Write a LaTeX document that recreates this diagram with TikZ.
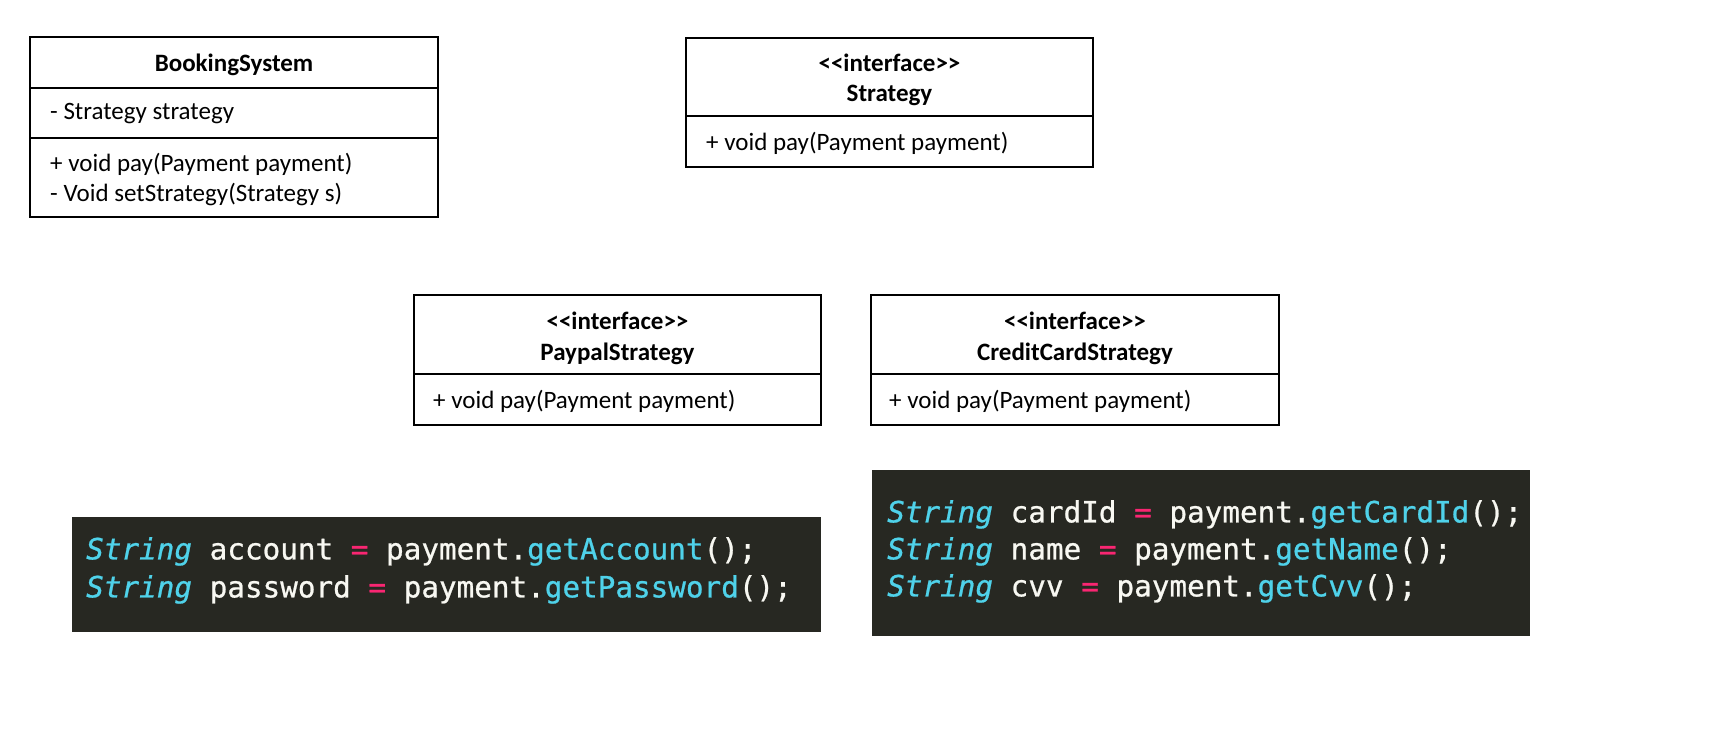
\documentclass[tikz,border=0pt]{standalone}
\usepackage{fontspec}
\setmainfont{Carlito}
\newfontfamily\codefont[FakeBold=0.8]{DejaVu Sans Mono}
\definecolor{mbg}{HTML}{272822}
\definecolor{mcyan}{HTML}{4FD2EA}
\definecolor{mpink}{HTML}{F92672}
\definecolor{mwhite}{HTML}{F8F8F2}
\newcommand{\kw}[1]{\textcolor{mcyan}{\itshape #1}}
\newcommand{\fn}[1]{\textcolor{mcyan}{#1}}
\newcommand{\eqs}{\textcolor{mpink}{=}}
\begin{document}
\begin{tikzpicture}[x=1pt,y=-1pt,
  umlbox/.style={draw=black,line width=2pt},
  umltext/.style={inner sep=0pt,font=\fontsize{25}{30}\selectfont},
  umltitle/.style={inner sep=0pt,font=\fontsize{25}{30}\selectfont\bfseries},
  codebox/.style={fill=mbg,draw=none},
  codetext/.style={inner sep=0pt,anchor=mid west,text=mwhite,font=\codefont\fontsize{29.3}{38}\selectfont}]
\useasboundingbox (0,0) rectangle (1726,732);
\fill[white] (0,0) rectangle (1726,732);
% BookingSystem
\draw[umlbox] (30,37) rectangle (438,217);
\draw[umlbox] (30,88) -- (438,88);
\draw[umlbox] (30,138) -- (438,138);
\node[umltitle,anchor=mid] (bstitle) at (234,69) {BookingSystem};
\node[umltext,anchor=mid west] (bsattr) at (50,117) {- Strategy strategy};
\node[umltext,anchor=mid west] (bsm1) at (50,169) {+ void pay(Payment payment)};
\node[umltext,anchor=mid west] (bsm2) at (50,199) {- Void setStrategy(Strategy s)};
% Strategy
\draw[umlbox] (686,38) rectangle (1093,167);
\draw[umlbox] (686,116) -- (1093,116);
\node[umltitle,anchor=mid] (ststereo) at (889.5,69) {<{}<interface>{}>};
\node[umltitle,anchor=mid] (sttitle) at (889.5,99) {Strategy};
\node[umltext,anchor=mid west] (stm) at (706,148) {+ void pay(Payment payment)};
% PaypalStrategy
\draw[umlbox] (414,295) rectangle (821,425);
\draw[umlbox] (414,374) -- (821,374);
\node[umltitle,anchor=mid] (ppstereo) at (617.5,327) {<{}<interface>{}>};
\node[umltitle,anchor=mid] (pptitle) at (617.5,358) {PaypalStrategy};
\node[umltext,anchor=mid west] (ppm) at (433,406) {+ void pay(Payment payment)};
% CreditCardStrategy
\draw[umlbox] (871,295) rectangle (1279,425);
\draw[umlbox] (871,374) -- (1279,374);
\node[umltitle,anchor=mid] (ccstereo) at (1075,327) {<{}<interface>{}>};
\node[umltitle,anchor=mid] (cctitle) at (1075,358) {CreditCardStrategy};
\node[umltext,anchor=mid west] (ccm) at (889,406) {+ void pay(Payment payment)};
% code block 1
\fill[codebox] (72,517) rectangle (821,632);
\node[codetext] (c1l1) at (86,557) {\kw{String} account \eqs{} payment.\fn{getAccount}();};
\node[codetext] (c1l2) at (86,595) {\kw{String} password \eqs{} payment.\fn{getPassword}();};
% code block 2
\fill[codebox] (872,470) rectangle (1530,636);
\node[codetext] (c2l1) at (887,520) {\kw{String} cardId \eqs{} payment.\fn{getCardId}();};
\node[codetext] (c2l2) at (887,557) {\kw{String} name \eqs{} payment.\fn{getName}();};
\node[codetext] (c2l3) at (887,594) {\kw{String} cvv \eqs{} payment.\fn{getCvv}();};
\end{tikzpicture}
\end{document}
